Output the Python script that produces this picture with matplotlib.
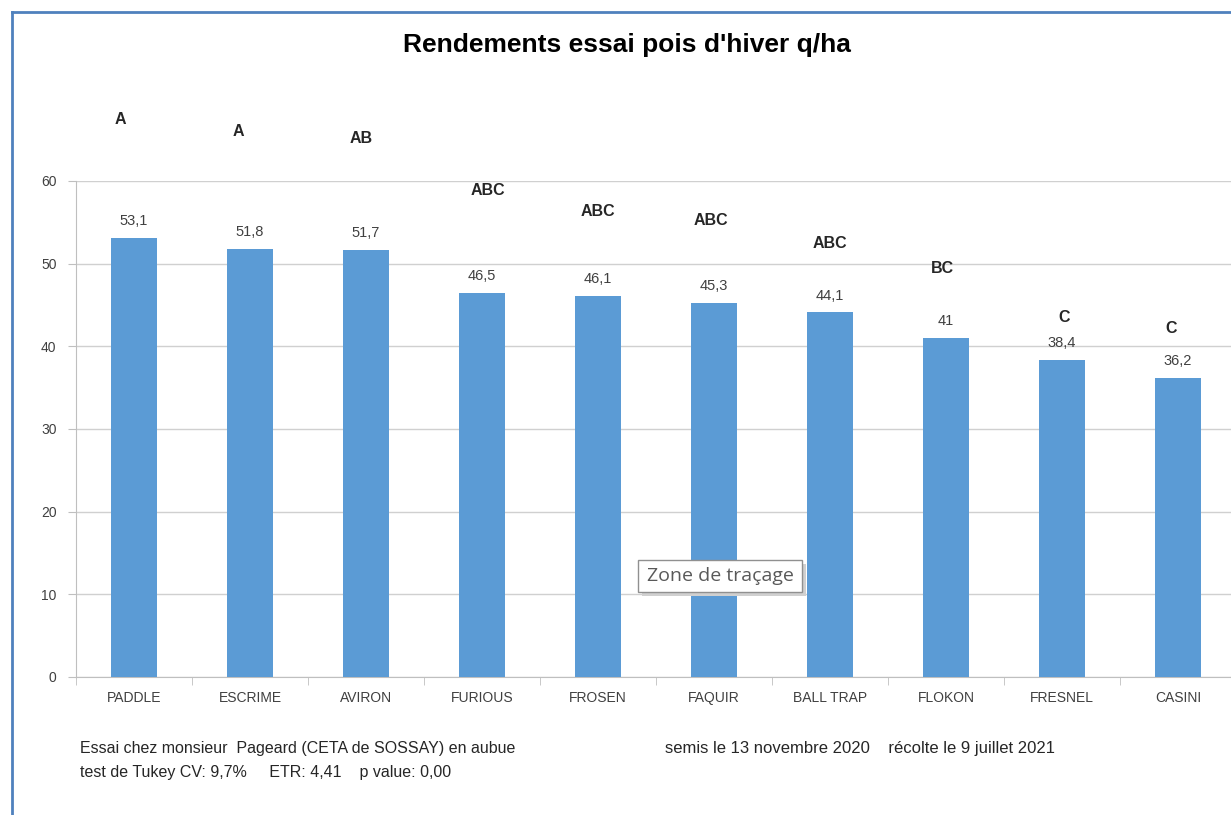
import matplotlib
matplotlib.use("Agg")
import matplotlib.pyplot as plt
from matplotlib.patches import Rectangle
from matplotlib.lines import Line2D

plt.rcParams['font.family'] = ['Liberation Sans Narrow', 'Liberation Sans', 'DejaVu Sans']

varietes = ['PADDLE', 'ESCRIME', 'AVIRON', 'FURIOUS', 'FROSEN', 'FAQUIR',
            'BALL TRAP', 'FLOKON', 'FRESNEL', 'CASINI']
rendements = [53.1, 51.8, 51.7, 46.5, 46.1, 45.3, 44.1, 41, 38.4, 36.2]
groupes = ['A', 'A', 'AB', 'ABC', 'ABC', 'ABC', 'ABC', 'BC', 'C', 'C']
# hauteur des lettres de groupe (en q/ha)
haut_groupes = [67.4, 66.0, 65.2, 58.9, 56.3, 55.2, 52.5, 49.4, 43.5, 42.2]
# decalage horizontal des lettres (en largeur de categorie)
decal_groupes = [-0.12, -0.10, -0.04, 0.05, 0.0, -0.03, 0.0, -0.03, 0.02, -0.06]
yticks = [0, 10, 20, 30, 40, 50, 60]

W, H = 1231, 815
fig = plt.figure(figsize=(W / 100, H / 100), dpi=100)

# cadre bleu
fig.add_artist(Line2D([12 / W, 12 / W], [0, 1 - 12 / H], transform=fig.transFigure,
                      color='#4F81BD', lw=2))
fig.add_artist(Line2D([12 / W, 1], [1 - 12 / H, 1 - 12 / H], transform=fig.transFigure,
                      color='#4F81BD', lw=2))

x0, x1 = 76, 76 + 116 * 10
y0, y1 = 677, 181
ax = fig.add_axes([x0 / W, 1 - y0 / H, (x1 - x0) / W, (y0 - y1) / H])

pos = list(range(len(varietes)))
ax.bar(pos, rendements, width=0.4, color='#5B9BD5', zorder=3)
ax.set_xlim(-0.5, len(varietes) - 0.5)
ax.set_ylim(0, 60)
ax.set_yticks(yticks)
ax.set_yticklabels([str(v) for v in yticks], fontsize=10, color='#404040')
ax.set_xticks(pos)
ax.set_xticklabels(varietes, fontsize=10, color='#404040')
ax.tick_params(axis='x', length=0, pad=10)
ax.tick_params(axis='y', length=6, color='#BFBFBF', pad=8)
ax.set_xticks([p - 0.5 for p in pos] + [len(varietes) - 0.5], minor=True)
ax.tick_params(axis='x', which='minor', length=6, color='#BFBFBF')
ax.grid(axis='y', color='#D0D0D0', lw=1, zorder=0)
for s in ['top', 'right']:
    ax.spines[s].set_visible(False)
ax.spines['left'].set_color('#BFBFBF')
ax.spines['bottom'].set_color('#BFBFBF')

for p, v in zip(pos, rendements):
    ax.text(p, v + 1.2, str(v).replace('.', ','), ha='center', va='bottom',
            fontsize=10.5, color='#404040')
for p, g, h, d in zip(pos, groupes, haut_groupes, decal_groupes):
    ax.text(p + d, h, g, ha='center', va='center', fontsize=11.5,
            fontweight='bold', color='#262626', clip_on=False)

fig.text(627 / W, 1 - 45 / H, "Rendements essai pois d'hiver q/ha", ha='center',
         va='center', fontsize=19, fontweight='bold', color='black')

fig.text(80 / W, 1 - 748 / H, 'Essai chez monsieur  Pageard (CETA de SOSSAY) en aubue',
         fontsize=11.5, va='center', color='#262626')
fig.text(80 / W, 1 - 773 / H, 'test de Tukey CV: 9,7%     ETR: 4,41    p value: 0,00',
         fontsize=11.5, va='center', color='#262626')
fig.text(665 / W, 1 - 748 / H, 'semis le 13 novembre 2020    récolte le 9 juillet 2021',
         fontsize=12, va='center', color='#262626')

# info-bulle
fig.add_artist(Rectangle((642 / W, 1 - 596 / H), 164 / W, 32 / H, transform=fig.transFigure,
                         facecolor='#D0D0D0', edgecolor='none', zorder=9))
fig.add_artist(Rectangle((638 / W, 1 - 592 / H), 164 / W, 32 / H, transform=fig.transFigure,
                         facecolor='white', edgecolor='#909090', lw=1, zorder=10))
fig.text(720 / W, 1 - 576 / H, 'Zone de traçage', ha='center', va='center',
         fontsize=14, color='#595959', zorder=11, family=['Open Sans', 'DejaVu Sans'])

fig.savefig('out.png', dpi=100)
